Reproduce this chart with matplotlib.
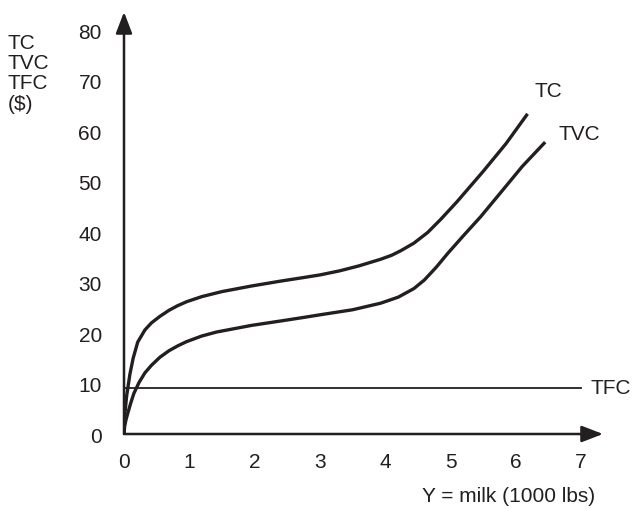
import matplotlib.pyplot as plt
import numpy as np

plt.rcParams['font.family'] = ['Liberation Sans', 'DejaVu Sans']

# values
tc_x = [0, 0.01, 0.04, 0.09, 0.14, 0.21, 0.32, 0.42, 0.55, 0.69, 0.82, 0.96, 1.19, 1.5, 1.95, 2.41, 2.71, 3.0, 3.3, 3.6, 3.93, 4.1, 4.24, 4.44, 4.65, 4.85, 5.1, 5.5, 5.85, 6.18]
tc_y = [0, 3.5, 7.5, 11.8, 15.0, 18.2, 20.6, 22.0, 23.3, 24.5, 25.4, 26.2, 27.2, 28.2, 29.3, 30.3, 30.9, 31.5, 32.3, 33.3, 34.6, 35.4, 36.3, 37.8, 39.9, 42.5, 46.0, 52.0, 57.5, 63.4]
tvc_x = [0, 0.01, 0.03, 0.06, 0.1, 0.15, 0.23, 0.32, 0.42, 0.55, 0.69, 0.83, 0.96, 1.19, 1.42, 1.95, 2.41, 2.71, 3.0, 3.5, 3.93, 4.2, 4.44, 4.6, 4.78, 4.96, 5.2, 5.46, 5.8, 6.1, 6.45]
tvc_y = [0, 1.5, 2.8, 4.2, 6.0, 8.0, 10.2, 12.1, 13.6, 15.2, 16.5, 17.5, 18.3, 19.4, 20.2, 21.5, 22.4, 23.0, 23.6, 24.6, 25.9, 27.1, 28.8, 30.5, 33.0, 35.8, 39.3, 43.0, 48.3, 53.0, 57.8]
tfc = 9.1
tfc_end = 7.0
xticks = [0, 1, 2, 3, 4, 5, 6, 7]
yticks = [0, 10, 20, 30, 40, 50, 60, 70, 80]

W, H = 633, 509
fig = plt.figure(figsize=(W / 100, H / 100), dpi=100)
x0, y0 = 124, 434
xend, yend = 603, 12
ax = fig.add_axes([x0 / W, (H - y0) / H, (xend - x0) / W, (y0 - yend) / H])
sx = 65.3
sy = 5.05
ax.set_xlim(0, (xend - x0) / sx)
ax.set_ylim(0, (y0 - yend) / sy)
for s in ax.spines.values():
    s.set_visible(False)
ax.set_xticks([])
ax.set_yticks([])
ax.patch.set_alpha(0)

col = '#231f20'
# axes with arrows
arrow = dict(arrowstyle='-|>,head_length=1.3,head_width=0.5', color=col, lw=1.8, shrinkA=0, shrinkB=0)
ax.annotate('', xy=(1, 0), xytext=(0, 0), xycoords='axes fraction', arrowprops=arrow)
ax.annotate('', xy=(0, 1), xytext=(0, 0), xycoords='axes fraction', arrowprops=arrow)

ax.plot(tc_x, tc_y, color=col, lw=2.4, solid_capstyle='butt', solid_joinstyle='round')
ax.plot(tvc_x, tvc_y, color=col, lw=2.4, solid_capstyle='butt', solid_joinstyle='round')
ax.plot([0, tfc_end], [tfc, tfc], color=col, lw=1.3)

fs = 15
for v in xticks:
    ax.text(v, -5.6, str(v), ha='center', va='center', fontsize=fs, color=col)
for v in yticks:
    ax.text(-0.34, v - 0.6, str(v), ha='right', va='center', fontsize=fs, color=col)

ax.text(tc_x[-1] + 0.1, tc_y[-1] + 4.4, 'TC', ha='left', va='center', fontsize=fs, color=col)
ax.text(tvc_x[-1] + 0.2, tvc_y[-1] + 1.6, 'TVC', ha='left', va='center', fontsize=fs, color=col)
ax.text(tfc_end + 0.15, tfc, 'TFC', ha='left', va='center', fontsize=fs, color=col)

fig.text(8 / W, 1 - 34 / H, 'TC\nTVC\nTFC\n($)', ha='left', va='top', fontsize=fs,
         color=col, linespacing=1.08)
fig.text(509 / W, 1 - 496 / H, 'Y = milk (1000 lbs)', ha='center', va='center', fontsize=fs,
         color=col)

fig.savefig('out.png', dpi=100)
